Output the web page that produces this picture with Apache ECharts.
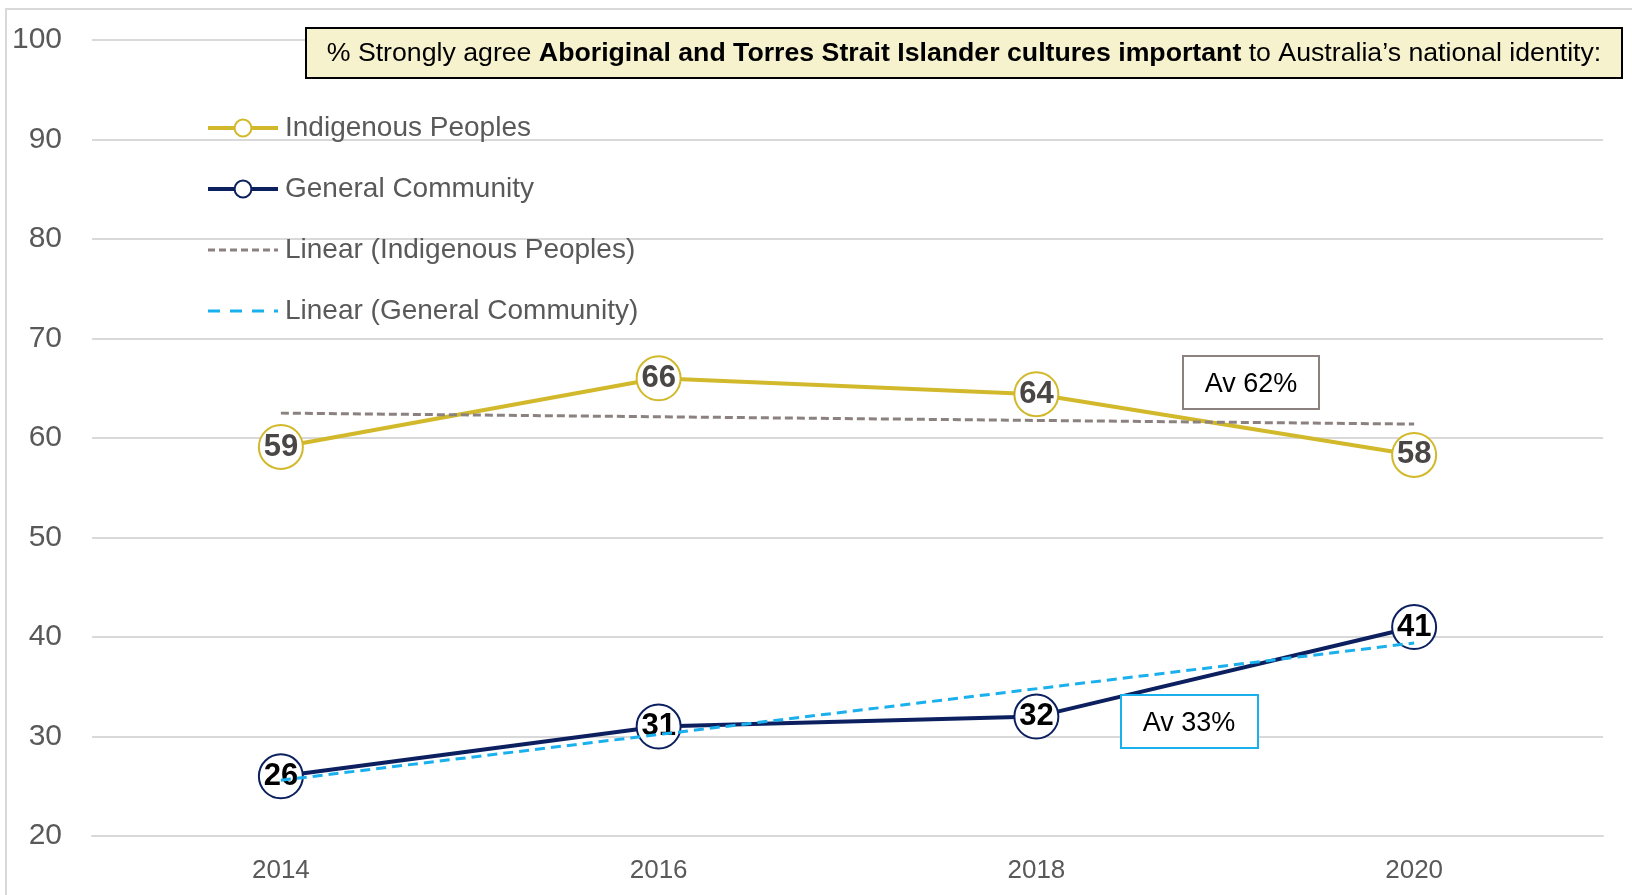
<!DOCTYPE html>
<html>
<head>
<meta charset="utf-8">
<script src="https://cdn.jsdelivr.net/npm/echarts@6/dist/echarts.min.js"></script>
<style>
html, body { margin: 0; padding: 0; background: #fff; }
#chart { width: 1632px; height: 895px; }
</style>
</head>
<body>
<div id="chart"></div>
<script>
// data
var years = ['2014', '2016', '2018', '2020'];
var indigenous = [59.1, 66, 64.4, 58.3];
var general = [26, 31, 32, 41];
// trend lines: only the two end values are read, the middle is left empty
var trendIndigenous = [62.5, null, null, 61.4];
var trendGeneral = [25.6, null, null, 39.4];
var yTicks = { min: 20, max: 100, step: 10 };

var fontName = '"Liberation Sans", Arial, sans-serif';
var gold = '#D2B92C';
var navy = '#0C2060';
var trendGrey = '#8B8280';
var trendBlue = '#1AB0EE';

var chart = echarts.init(document.getElementById('chart'));

var pointLabel = function (color) {
    return {
        show: true,
        position: 'inside',
        fontSize: 31,
        fontWeight: 'bold',
        color: color,
        fontFamily: fontName,
        formatter: function (p) { return Math.round(p.value); }
    };
};

var option = {
    backgroundColor: '#ffffff',
    textStyle: { fontFamily: fontName },
    grid: {
        left: 92,
        right: 29,
        top: 40,
        bottom: 59
    },
    legend: {
        orient: 'vertical',
        left: 201,
        top: 109,
        itemWidth: 70,
        itemHeight: 21,
        itemGap: 33,
        textStyle: {
            fontFamily: fontName,
            fontSize: 28,
            color: '#595959',
            lineHeight: 26,
            padding: [0, 0, 0, 2]
        },
        data: [
            { name: 'Indigenous Peoples', lineStyle: { width: 4 } },
            { name: 'General Community', lineStyle: { width: 4 } },
            { name: 'Linear (Indigenous Peoples)', itemStyle: { opacity: 0 }, lineStyle: { width: 3, type: [7, 4] } },
            { name: 'Linear (General Community)', itemStyle: { opacity: 0 }, lineStyle: { width: 3, type: [12, 10] } }
        ]
    },
    xAxis: {
        type: 'category',
        data: years,
        boundaryGap: true,
        axisLine: { lineStyle: { color: '#d9d9d9', width: 2 } },
        axisTick: { show: false },
        axisLabel: {
            margin: 22,
            fontSize: 26,
            color: '#595959',
            fontFamily: fontName
        }
    },
    yAxis: {
        type: 'value',
        min: yTicks.min,
        max: yTicks.max,
        interval: yTicks.step,
        axisLine: { show: false },
        axisTick: { show: false },
        axisLabel: {
            margin: 30,
            fontSize: 30,
            color: '#595959',
            fontFamily: fontName
        },
        splitLine: { lineStyle: { color: '#d9d9d9', width: 2 } }
    },
    series: [
        {
            name: 'Indigenous Peoples',
            type: 'line',
            data: indigenous,
            symbol: 'circle',
            symbolSize: 44,
            lineStyle: { color: gold, width: 4 },
            itemStyle: { color: '#ffffff', borderColor: gold, borderWidth: 2 },
            label: pointLabel('#4a4646'),
            z: 3
        },
        {
            name: 'General Community',
            type: 'line',
            data: general,
            symbol: 'circle',
            symbolSize: 44,
            lineStyle: { color: navy, width: 4 },
            itemStyle: { color: '#ffffff', borderColor: navy, borderWidth: 2 },
            label: pointLabel('#000000'),
            z: 3
        },
        {
            name: 'Linear (Indigenous Peoples)',
            type: 'line',
            data: trendIndigenous,
            connectNulls: true,
            symbol: 'none',
            itemStyle: { color: trendGrey },
            lineStyle: { color: trendGrey, width: 3, type: [8, 4] },
            z: 4
        },
        {
            name: 'Linear (General Community)',
            type: 'line',
            data: trendGeneral,
            connectNulls: true,
            symbol: 'none',
            itemStyle: { color: trendBlue },
            lineStyle: { color: trendBlue, width: 3, type: [10, 6] },
            z: 4
        }
    ],
    graphic: [
        // light frame round the chart (top and left edge only)
        {
            type: 'polyline',
            shape: { points: [[6, 895], [6, 9], [1632, 9]] },
            style: { stroke: '#d9d9d9', lineWidth: 2, fill: null },
            silent: true
        },
        // title box
        {
            type: 'rect',
            shape: { x: 306, y: 28, width: 1316, height: 50 },
            style: { fill: '#F6F2CE', stroke: '#000000', lineWidth: 2 },
            z: 10
        },
        {
            type: 'text',
            x: 964,
            y: 54,
            z: 11,
            style: {
                text: '{n|% Strongly agree }{b|Aboriginal and Torres Strait Islander cultures important}{n| to Australia\u2019s national identity:}',
                align: 'center',
                verticalAlign: 'middle',
                rich: {
                    n: { fontSize: 26.7, fontFamily: fontName, color: '#000000' },
                    b: { fontSize: 26.7, fontFamily: fontName, color: '#000000', fontWeight: 'bold' }
                }
            }
        },
        // average notes
        {
            type: 'rect',
            shape: { x: 1183, y: 356, width: 136, height: 53 },
            style: { fill: '#ffffff', stroke: trendGrey, lineWidth: 2 },
            z: 10
        },
        {
            type: 'text',
            x: 1251,
            y: 385,
            z: 11,
            style: {
                text: 'Av 62%',
                align: 'center',
                verticalAlign: 'middle',
                fontSize: 27,
                fontFamily: fontName,
                fill: '#000000'
            }
        },
        {
            type: 'rect',
            shape: { x: 1121, y: 695, width: 137, height: 53 },
            style: { fill: '#ffffff', stroke: trendBlue, lineWidth: 2 },
            z: 10
        },
        {
            type: 'text',
            x: 1189,
            y: 724,
            z: 11,
            style: {
                text: 'Av 33%',
                align: 'center',
                verticalAlign: 'middle',
                fontSize: 27,
                fontFamily: fontName,
                fill: '#000000'
            }
        }
    ]
};

chart.setOption(option);
</script>
</body>
</html>
